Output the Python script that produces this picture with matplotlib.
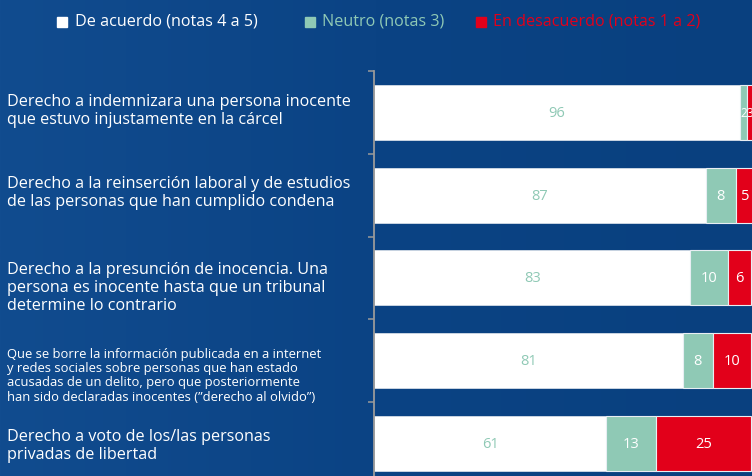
import numpy as np
import matplotlib
matplotlib.use('Agg')
import matplotlib.pyplot as plt
import matplotlib.transforms as mtransforms
from matplotlib.patches import Rectangle
from matplotlib.colors import LinearSegmentedColormap

# ---------------- data ----------------
categories = [
    "Derecho a indemnizara una persona inocente\nque estuvo injustamente en la cárcel",
    "Derecho a la reinserción laboral y de estudios\nde las personas que han cumplido condena",
    "Derecho a la presunción de inocencia. Una\npersona es inocente hasta que un tribunal\ndetermine lo contrario",
    "Que se borre la información publicada en a internet\ny redes sociales sobre personas que han estado\nacusadas de un delito, pero que posteriormente\nhan sido declaradas inocentes (\u201dderecho al olvido\u201d)",
    "Derecho a voto de los/las personas\nprivadas de libertad",
]
de_acuerdo = [96, 87, 83, 81, 61]
neutro = [2, 8, 10, 8, 13]
desacuerdo = [3, 5, 6, 10, 25]
legend_labels = ["De acuerdo (notas 4 a 5)", "Neutro (notas 3)", "En desacuerdo (notas 1 a 2)"]

# ---------------- style ----------------
BG = '#0a4182'
WHITE = '#ffffff'
TEAL = '#8fc9b5'
RED = '#e2001a'
GRAY = '#9a9a9a'
FONT = 'Open Sans'
plt.rcParams['font.family'] = [FONT, 'DejaVu Sans']

W, H = 752, 477
fig = plt.figure(figsize=(W / 100, H / 100), dpi=100, facecolor=BG)

# subtle background gradient (lighter on the left)
bg_ax = fig.add_axes([0, 0, 1, 1], zorder=-10)
cmap = LinearSegmentedColormap.from_list('bg', ['#114c8f', '#0b4384', '#09407f'])
grad = np.linspace(0, 1, 256).reshape(1, -1)
bg_ax.imshow(grad, aspect='auto', cmap=cmap, extent=[0, 1, 0, 1])
bg_ax.axis('off')

ax = fig.add_axes([374 / W, 0, 378 / W, 1 - 72 / H])
ax.patch.set_alpha(0)

y = np.arange(len(categories))
de = np.array(de_acuerdo)
ne = np.array(neutro)
ds = np.array(desacuerdo)
bh = 0.665
ax.barh(y, de, height=bh, color=WHITE, edgecolor='#c9d4e2', linewidth=0.7)
ax.barh(y, ne, left=de, height=bh, color=TEAL, edgecolor='#e8eef3', linewidth=0.8)
ax.barh(y, ds, left=de + ne, height=bh, color=RED, edgecolor='#e8eef3', linewidth=0.8)

ax.set_xlim(0, 99.2)
ax.set_ylim(-0.5 + (H - 72) / 82.75, -0.5)

for s in ['top', 'right', 'bottom']:
    ax.spines[s].set_visible(False)
ax.spines['left'].set_color(GRAY)
ax.spines['left'].set_linewidth(1.3)
ax.set_xticks([])
ax.set_yticks(np.arange(len(categories)) - 0.5)
ax.set_yticklabels([])
ax.tick_params(axis='y', length=4, width=1.1, color=GRAY, direction='out')

# value labels
for i in range(len(categories)):
    ax.text(de[i] / 2, i, str(de[i]), ha='center', va='center', color=TEAL, fontsize=10.5)
    small = ne[i] < 4
    ax.text(de[i] + ne[i] / 2, i, str(ne[i]), ha='center', va='center', color=WHITE,
            fontsize=8.5 if small else 10.5)
    ax.text(de[i] + ne[i] + ds[i] / 2 - (1.0 if ds[i] < 4 else 0), i, str(ds[i]),
            ha='center', va='center', color=WHITE, fontsize=8.5 if ds[i] < 4 else 10.5)

# category labels
trans = mtransforms.blended_transform_factory(fig.transFigure, ax.transData)
label_offsets = [-0.03, -0.04, 0.11, 0.17, 0.02]
label_sizes = [11.6, 11.6, 11.6, 9.4, 11.6]
label_spacing = [1.17, 1.17, 1.17, 1.13, 1.17]
for i, lab in enumerate(categories):
    ax.text(7 / W, i + label_offsets[i], lab, transform=trans, ha='left', va='center',
            color=WHITE, fontsize=label_sizes[i], linespacing=label_spacing[i])

# legend
leg_colors = [WHITE, TEAL, RED]
sq_x = [57, 305, 476]
tx_x = [75, 322, 493]
for lab, c, sx, tx in zip(legend_labels, leg_colors, sq_x, tx_x):
    fig.patches.append(Rectangle((sx / W, 1 - 28 / H), 10 / W, 10 / H,
                                 transform=fig.transFigure, color=c, zorder=3))
    fig.text(tx / W, 1 - 22 / H, lab, ha='left', va='center', color=c, fontsize=11.6)

fig.savefig('out.png', dpi=100, facecolor=BG)
